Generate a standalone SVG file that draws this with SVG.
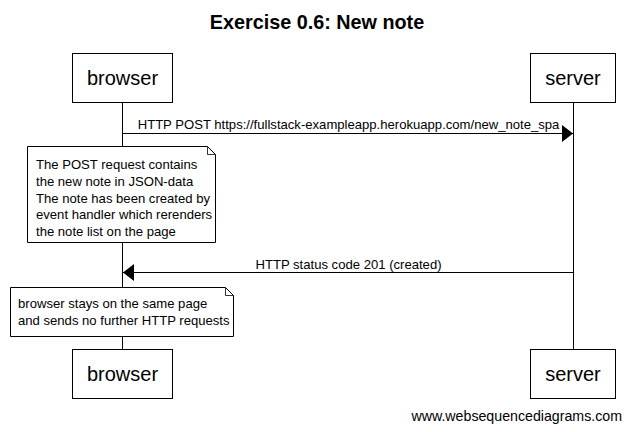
<svg xmlns="http://www.w3.org/2000/svg" width="631" height="432" viewBox="0 0 631 432">
<style>
text{font-family:"Liberation Sans",Arial,sans-serif;fill:#000}
.box{fill:#fff;stroke:#000;stroke-width:1}
.life{stroke:#000;stroke-width:1}
.msg{stroke:#000;stroke-width:1;fill:none}
.part{font-size:20px;text-anchor:middle}
.lbl{font-size:13.1px;text-anchor:middle}
.nt{font-size:13.1px}
.note{fill:#fff;stroke:#000;stroke-width:1}
.fold{fill:none;stroke:#000;stroke-width:0.8}
</style>
<defs>
<marker id="ah" markerWidth="11" markerHeight="17" refX="11" refY="8.5" orient="auto" markerUnits="userSpaceOnUse">
<path d="M0,0 L11,8.5 L0,17 Z" fill="#000"/>
</marker>
</defs>
<rect width="631" height="432" fill="#fff"/>
<text x="317" y="29" font-size="19.8" font-weight="bold" text-anchor="middle">Exercise 0.6: New note</text>
<g id="lifelines">
<line class="life" x1="122.5" y1="102" x2="122.5" y2="349"/>
<line class="life" x1="573.5" y1="102" x2="573.5" y2="349"/>
</g>
<g id="browser-top"><rect class="box" x="72.5" y="53.5" width="100" height="49"/><text class="part" x="122.5" y="85">browser</text></g>
<g id="server-top"><rect class="box" x="530.5" y="53.5" width="85" height="49"/><text class="part" x="573" y="85">server</text></g>
<g id="browser-bottom"><rect class="box" x="72.5" y="349.5" width="100" height="49"/><text class="part" x="122.5" y="381">browser</text></g>
<g id="server-bottom"><rect class="box" x="530.5" y="349.5" width="85" height="49"/><text class="part" x="573" y="381">server</text></g>
<g id="connectors">
<line class="msg" x1="122.5" y1="133.5" x2="573" y2="133.5" marker-end="url(#ah)"/>
<text class="lbl" x="348.5" y="129">HTTP POST https://fullstack-exampleapp.herokuapp.com/new_note_spa</text>
<line class="msg" x1="573.5" y1="272.5" x2="123" y2="272.5" marker-end="url(#ah)"/>
<text class="lbl" x="348.5" y="269">HTTP status code 201 (created)</text>
</g>
<g id="note1">
<path class="note" d="M27.5,146.5 H207.5 L215.5,154.5 V242.5 H27.5 Z"/>
<path class="fold" d="M207.5,146.5 V154.5 H215.5"/>
<text class="nt" x="36" y="168.5">The POST request contains</text>
<text class="nt" x="36" y="185.5">the new note in JSON-data</text>
<text class="nt" x="36" y="202.5">The note has been created by</text>
<text class="nt" x="36" y="219">event handler which rerenders</text>
<text class="nt" x="36" y="235.5">the note list on the page</text>
</g>
<g id="note2">
<path class="note" d="M10.5,287.5 H225.5 L233.5,295.5 V336.5 H10.5 Z"/>
<path class="fold" d="M225.5,287.5 V295.5 H233.5"/>
<text class="nt" x="18" y="307.5">browser stays on the same page</text>
<text class="nt" x="18" y="324.5">and sends no further HTTP requests</text>
</g>
<text x="622" y="421" font-size="14.2" text-anchor="end">www.websequencediagrams.com</text>
</svg>
